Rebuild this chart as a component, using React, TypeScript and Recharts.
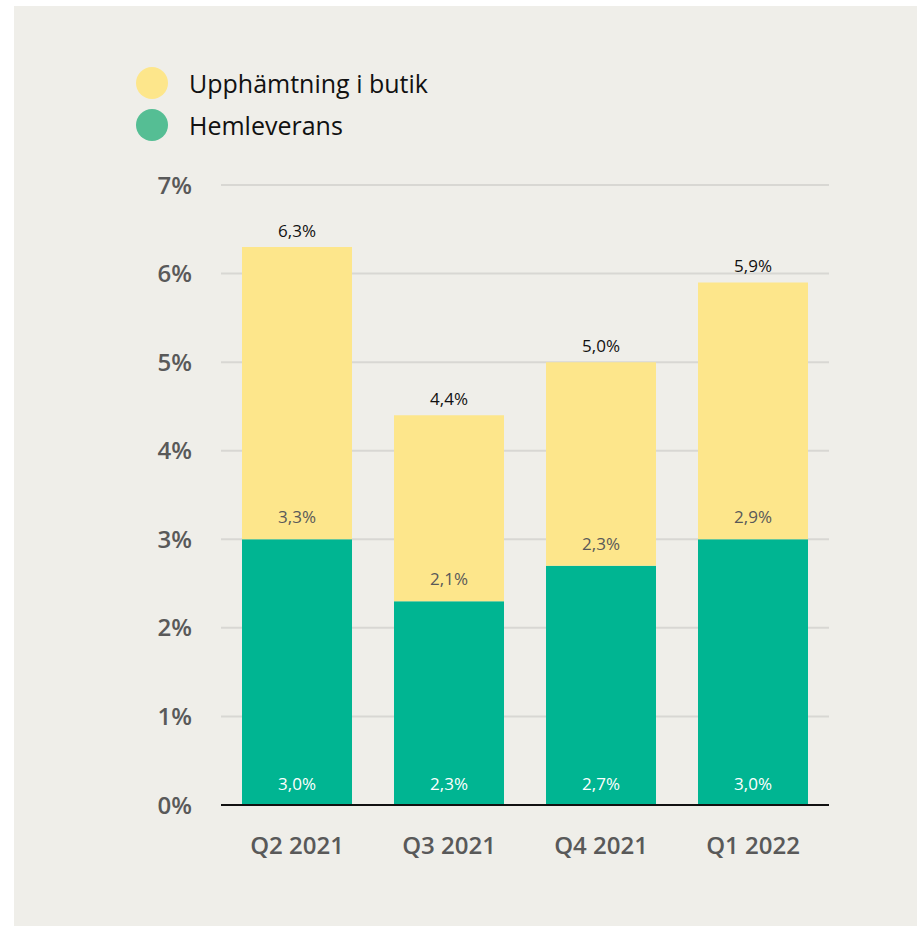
import { BarChart, Bar, XAxis, YAxis, CartesianGrid, LabelList } from 'recharts';

const quarters = ['Q2 2021', 'Q3 2021', 'Q4 2021', 'Q1 2022'];
const hemleverans = [3.0, 2.3, 2.7, 3.0];
const upphamtning = [3.3, 2.1, 2.3, 2.9];
const totals = [6.3, 4.4, 5.0, 5.9];
const yTicks = [0, 1, 2, 3, 4, 5, 6, 7];

const YELLOW = '#fde68b';
const GREEN = '#00b592';
const FONT = '"Open Sans", sans-serif';

const legendItems = [
  { name: 'Upphämtning i butik', color: YELLOW },
  { name: 'Hemleverans', color: '#55be94' },
];

const data = quarters.map((q, i) => ({
  name: q,
  hem: hemleverans[i],
  upp: upphamtning[i],
  total: totals[i],
}));

const pct = (v: any) => `${Number(v).toFixed(1).replace('.', ',')}%`;

export default function App() {
  return (
    <div
      style={{
        position: 'absolute',
        left: 14,
        top: 6,
        width: 903,
        height: 920,
        background: '#efeee9',
        fontFamily: FONT,
      }}
    >
      <div style={{ position: 'absolute', left: 122, top: 56 }}>
        {legendItems.map((it) => (
          <div key={it.name} style={{ display: 'flex', alignItems: 'center', height: 42 }}>
            <span
              style={{
                width: 32,
                height: 32,
                borderRadius: '50%',
                background: it.color,
                display: 'inline-block',
              }}
            />
            <span style={{ marginLeft: 21, fontSize: 25, color: '#111' }}>{it.name}</span>
          </div>
        ))}
      </div>
      <BarChart
        width={903}
        height={920}
        data={data}
        margin={{ top: 179, right: 88, left: 0, bottom: 61 }}
        style={{ fontFamily: FONT }}
      >
        <CartesianGrid vertical={false} stroke="#d8d7d3" strokeWidth={2} />
        <YAxis
          width={207}
          domain={[0, 7]}
          ticks={yTicks}
          tickFormatter={(v) => `${v}%`}
          axisLine={false}
          tickLine={false}
          tickSize={0}
          tickMargin={29}
          tick={{ fill: '#595959', fontSize: 24, fontWeight: 600 }}
        />
        <XAxis
          dataKey="name"
          height={60}
          axisLine={{ stroke: '#111', strokeWidth: 2 }}
          tickLine={false}
          tickSize={0}
          tickMargin={32}
          tick={{ fill: '#595959', fontSize: 24, fontWeight: 600 }}
        />
        <Bar dataKey="hem" stackId="a" fill={GREEN} barSize={110} isAnimationActive={false}>
          <LabelList
            dataKey="hem"
            position="insideBottom"
            offset={15}
            formatter={pct}
            fill="#ffffff"
            fontSize={17}
          />
        </Bar>
        <Bar dataKey="upp" stackId="a" fill={YELLOW} barSize={110} isAnimationActive={false}>
          <LabelList
            dataKey="upp"
            position="insideBottom"
            offset={16}
            formatter={pct}
            fill="#595959"
            fontSize={17}
          />
          <LabelList
            dataKey="total"
            position="top"
            offset={10}
            formatter={pct}
            fill="#111"
            fontSize={17}
          />
        </Bar>
      </BarChart>
    </div>
  );
}
